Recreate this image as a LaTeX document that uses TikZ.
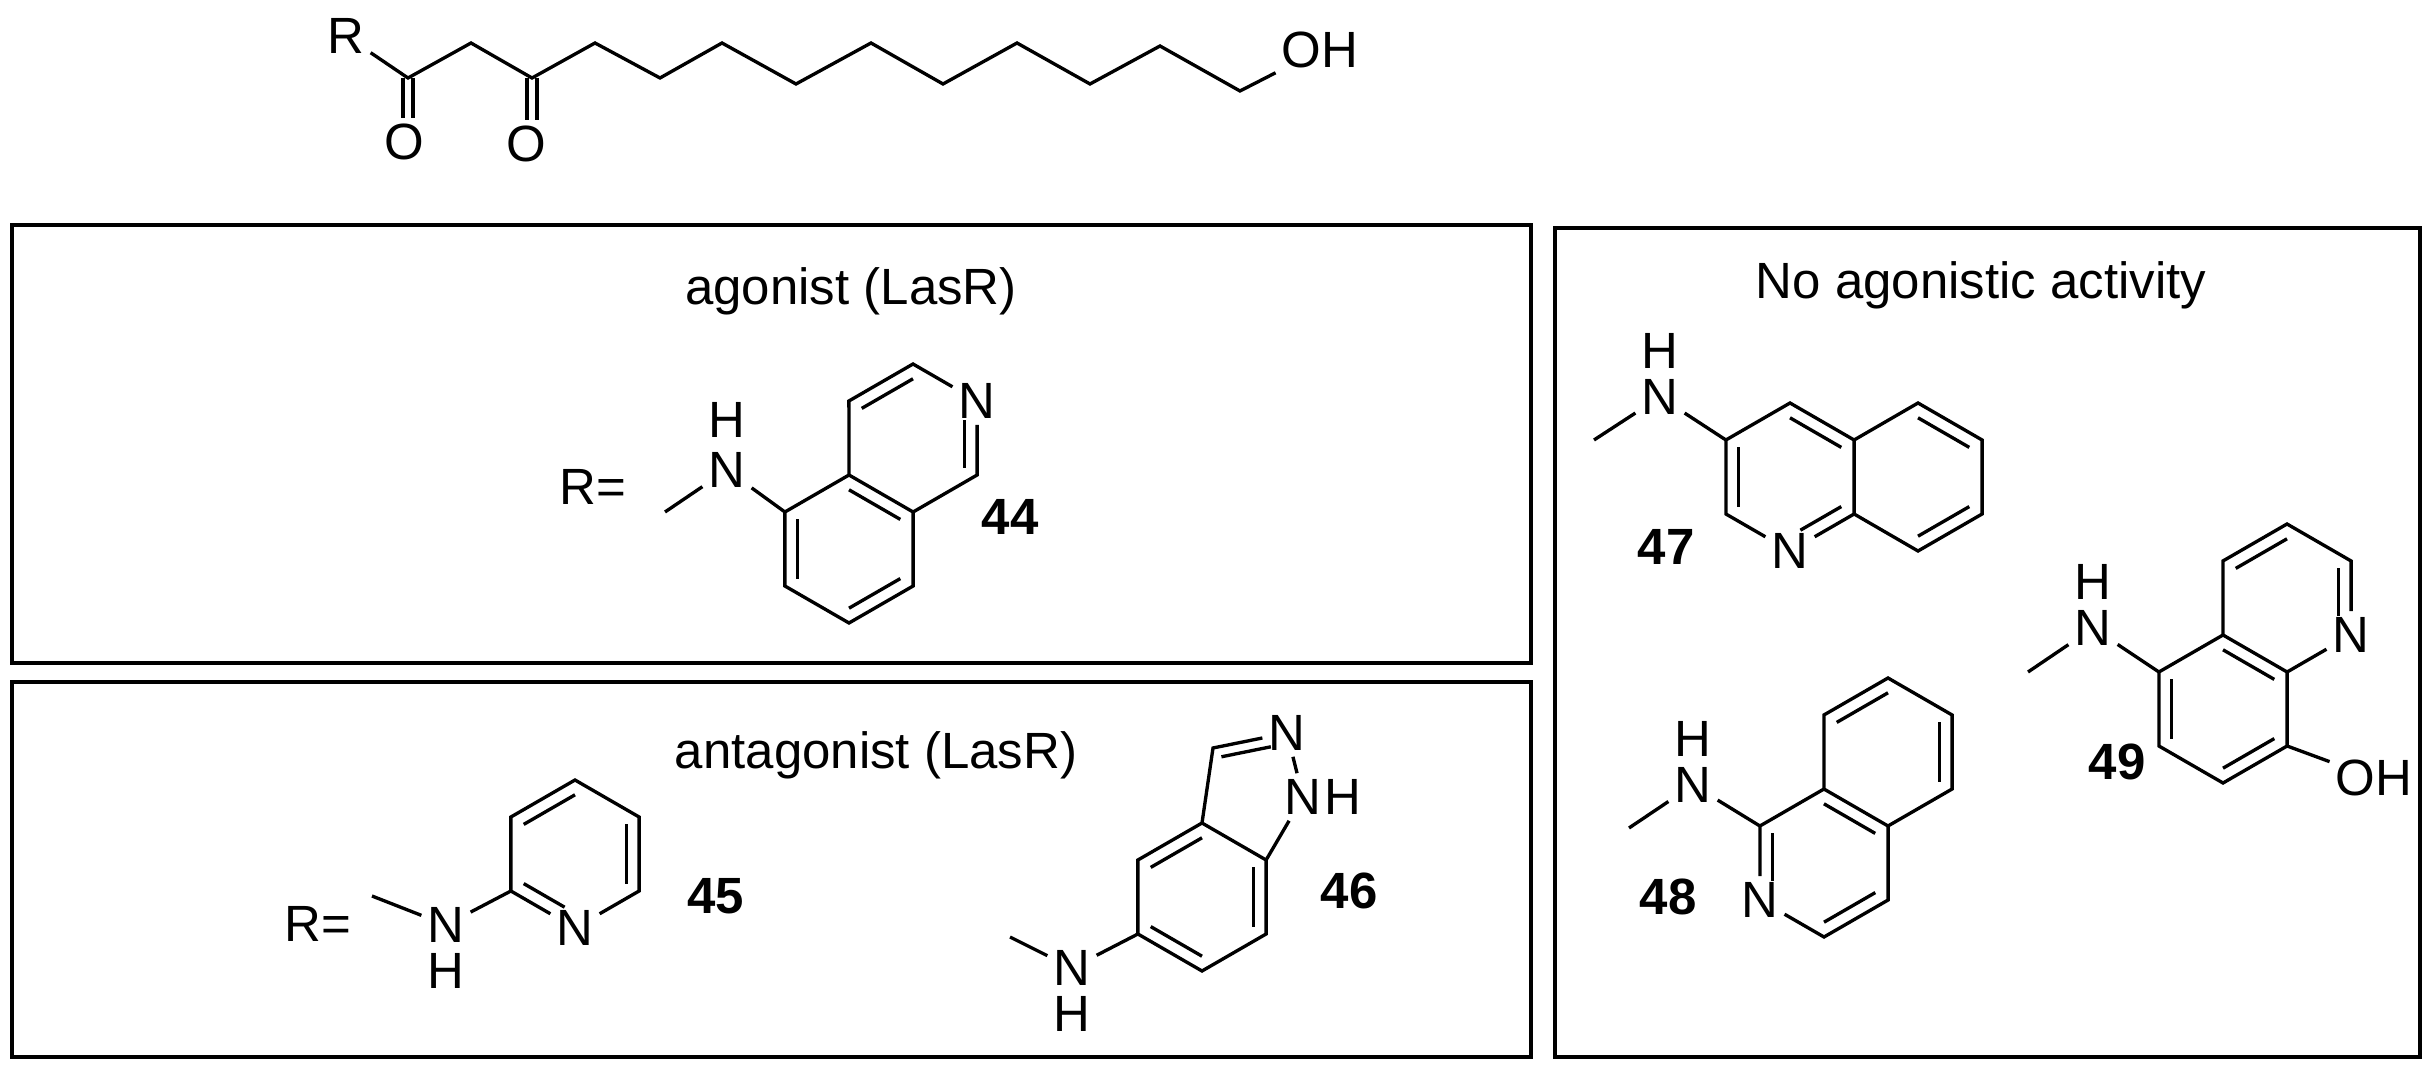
\documentclass[tikz,border=0pt]{standalone}
\usepackage{fontspec}
\setmainfont{Liberation Sans}
\usetikzlibrary{calc}
\newcommand\hexc[3]{%
 \coordinate (#1c) at (#2,#3);
 \coordinate (#1-1) at (#2,#3-74);
 \coordinate (#1-2) at (#2+64.1,#3-37);
 \coordinate (#1-3) at (#2+64.1,#3+37);
 \coordinate (#1-4) at (#2,#3+74);
 \coordinate (#1-5) at (#2-64.1,#3+37);
 \coordinate (#1-6) at (#2-64.1,#3-37);}
\newcommand\dbl[4][]{\draw[#1] ($(#2)!.2!(#4)$) -- ($(#3)!.2!(#4)$);}
\begin{document}
\begin{tikzpicture}[x=0.1mm,y=-0.1mm,line width=0.95pt,
 atom/.style={inner sep=1.3pt,font=\fontsize{14.5}{17}\selectfont},
 lbl/.style={font=\fontsize{14.5}{17}\selectfont},
 num/.style={font=\fontsize{14.5}{17}\selectfont\bfseries},
 panel/.style={draw,line width=1.1pt}]
\useasboundingbox (0,0) rectangle (2431,1065);
% panels
\draw[panel] (12,225) rectangle (1531,663);
\draw[panel] (12,682) rectangle (1531,1057);
\draw[panel] (1555,228) rectangle (2420,1057);
\node[lbl] (t1) at (851,291) {agonist (LasR)};
\node[lbl] (t2) at (876,755) {antagonist (LasR)};
\node[lbl] (t3) at (1981,285) {No agonistic activity};
% chain
\node[atom] (R) at (346,36) {R};
\coordinate (c1) at (408,78); \coordinate (c2) at (471,43);
\coordinate (c3) at (532,78); \coordinate (c4) at (595,43);
\coordinate (c5) at (660,78); \coordinate (c6) at (722,43);
\coordinate (c7) at (796,84); \coordinate (c8) at (871,43);
\coordinate (c9) at (943,84); \coordinate (c10) at (1017,43);
\coordinate (c11) at (1090,84); \coordinate (c12) at (1160,46);
\coordinate (c13) at (1240,91);
\node[atom] (OH) at (1320,50) {OH};
\node[atom] (O1) at (404,142) {O};
\node[atom] (O2) at (526,144) {O};
\draw (R) -- (c1) -- (c2) -- (c3) -- (c4) -- (c5) -- (c6) -- (c7) -- (c8) -- (c9) -- (c10) -- (c11) -- (c12) -- (c13) -- (OH);
\draw ($(c1)+(-5,0)$) -- ($(c1|-O1.north)+(-5,0)$) ($(c1)+(5,0)$) -- ($(c1|-O1.north)+(5,0)$);
\draw ($(c3)+(-5,0)$) -- ($(c3|-O2.north)+(-5,0)$) ($(c3)+(5,0)$) -- ($(c3|-O2.north)+(5,0)$);
% 44
\node[lbl] (R44) at (593,487) {R=};
\hexc{a44}{849}{549}
\hexc{b44}{913}{438}
\node[atom] (n44) at (b44-2) {N};
\node[atom] (N44) at (727,470) {N};
\node[atom] (H44) at (727,420) {H};
\coordinate (m44) at (665,512);
\draw (m44) -- (N44) -- (a44-6);
\draw (a44-1) -- (a44-2) -- (a44-3) -- (a44-4) -- (a44-5) -- (a44-6) -- cycle;
\draw (a44-1) -- (b44-6) -- (b44-1) -- (n44) -- (b44-3) -- (a44-2);
\dbl{a44-5}{a44-6}{a44c} \dbl{a44-3}{a44-4}{a44c} \dbl{a44-1}{a44-2}{a44c}
\dbl{b44-6}{b44-1}{b44c} \dbl[shorten <=1.2mm]{n44}{b44-3}{b44c}
\node[num] (l44) at (1010,517) {44};
% 45
\node[lbl] (R45) at (318,924) {R=};
\hexc{p45}{575}{854}
\node[atom] (n45) at (p45-4) {N};
\node[atom] (N45) at (446,925) {N};
\node[atom] (H45) at (446,971) {H};
\coordinate (m45) at (372,896);
\draw (m45) -- (N45) -- (p45-5);
\draw (p45-5) -- (p45-6) -- (p45-1) -- (p45-2) -- (p45-3) -- (n45) -- (p45-5);
\dbl{p45-6}{p45-1}{p45c} \dbl{p45-2}{p45-3}{p45c} \dbl[shorten >=1.2mm]{p45-5}{n45}{p45c}
\node[num] (l45) at (716,896) {45};
% 46
\hexc{b46}{1202}{897}
\coordinate (c346) at (1213,748);
\node[atom] (N246) at (1287,733) {N};
\node[atom] (N146) at (1303,797) {N};
\node[atom,anchor=west,inner sep=0pt,xshift=-1.3pt] (H146) at (N146.east) {H};
\coordinate (pz46) at (1255,792);
\draw (b46-1) -- (b46-2) -- (b46-3) -- (b46-4) -- (b46-5) -- (b46-6) -- cycle;
\draw (b46-1) -- (c346) -- (N246) -- (N146) -- (b46-2);
\dbl[shorten >=1mm]{c346}{N246}{pz46}
\dbl{b46-6}{b46-1}{b46c} \dbl{b46-5}{b46-4}{b46c} \dbl{b46-2}{b46-3}{b46c}
\node[atom] (N46) at (1072,968) {N};
\node[atom] (H46) at (1072,1014) {H};
\coordinate (m46) at (1010,937);
\draw (m46) -- (N46) -- (b46-5);
\node[num] (l46) at (1349,891) {46};
% 47
\hexc{p47}{1790}{477}
\hexc{q47}{1918}{477}
\node[atom] (n47) at (p47-4) {N};
\draw (n47) -- (p47-5) -- (p47-6) -- (p47-1) -- (p47-2) -- (p47-3) -- (n47);
\draw (p47-2) -- (q47-1) -- (q47-2) -- (q47-3) -- (q47-4) -- (p47-3);
\dbl{p47-1}{p47-2}{p47c} \dbl{p47-5}{p47-6}{p47c} \dbl[shorten <=1.2mm]{n47}{p47-3}{p47c}
\dbl{q47-1}{q47-2}{q47c} \dbl{q47-3}{q47-4}{q47c}
\node[atom] (N47) at (1660,397) {N};
\node[atom] (H47) at (1660,351) {H};
\coordinate (m47) at (1594,440);
\draw (m47) -- (N47) -- (p47-6);
\node[num] (l47) at (1666,547) {47};
% 48
\hexc{b48}{1888}{752}
\hexc{p48}{1824}{863}
\node[atom] (n48) at (p48-5) {N};
\draw (b48-1) -- (b48-2) -- (b48-3) -- (b48-4) -- (b48-5) -- (b48-6) -- cycle;
\draw (p48-1) -- (p48-6) -- (n48) -- (p48-4) -- (p48-3) -- (p48-2);
\dbl{b48-6}{b48-1}{b48c} \dbl{b48-2}{b48-3}{b48c} \dbl{b48-5}{b48-4}{p48c}
\dbl[shorten >=1.2mm]{p48-6}{n48}{p48c} \dbl{p48-4}{p48-3}{p48c}
\node[atom] (N48) at (1693,785) {N};
\node[atom] (H48) at (1693,739) {H};
\coordinate (m48) at (1629,828);
\draw (m48) -- (N48) -- (p48-6);
\node[num] (l48) at (1668,897) {48};
% 49
\hexc{b49}{2223}{709}
\hexc{p49}{2287}{598}
\node[atom] (n49) at (p49-3) {N};
\draw (b49-1) -- (b49-2) -- (b49-3) -- (b49-4) -- (b49-5) -- (b49-6) -- cycle;
\draw (b49-1) -- (p49-6) -- (p49-1) -- (p49-2) -- (n49) -- (b49-2);
\dbl{b49-5}{b49-6}{b49c} \dbl{b49-3}{b49-4}{b49c} \dbl{b49-1}{b49-2}{b49c}
\dbl{p49-6}{p49-1}{p49c} \dbl[shorten >=1.2mm]{p49-2}{n49}{p49c}
\node[atom] (OH49) at (2374,778) {OH};
\draw (b49-3) -- (OH49);
\node[atom] (N49) at (2093,628) {N};
\node[atom] (H49) at (2093,582) {H};
\coordinate (m49) at (2028,672);
\draw (m49) -- (N49) -- (b49-6);
\node[num] (l49) at (2117,762) {49};
\end{tikzpicture}
\end{document}
